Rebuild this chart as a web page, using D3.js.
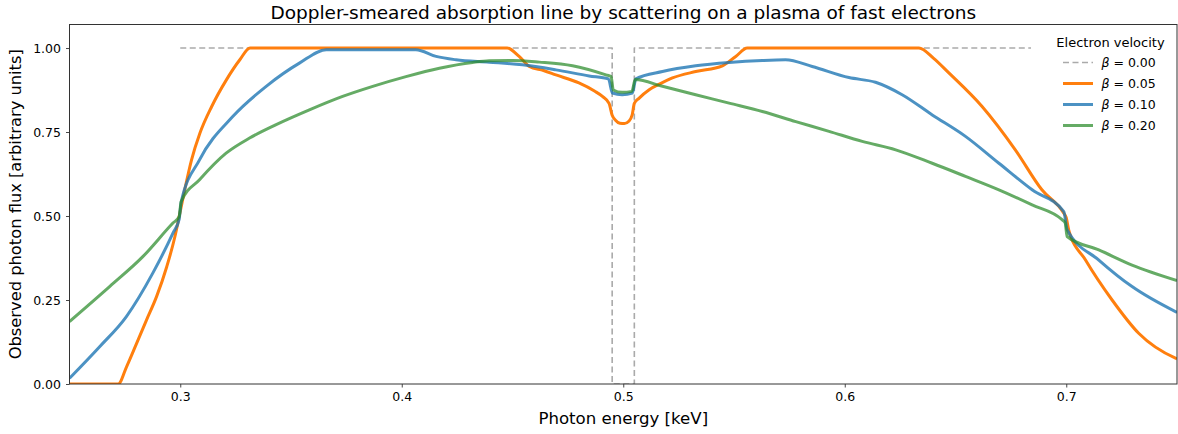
<!DOCTYPE html>
<html>
<head>
<meta charset="utf-8">
<script src="https://cdn.jsdelivr.net/npm/d3@7"></script>
<style>
  html, body { margin: 0; padding: 0; background: #fff; }
  svg { display: block; font-family: "DejaVu Sans", sans-serif; }
</style>
</head>
<body>
<svg id="chart" width="1178" height="434"></svg>
<script>
// Rest-frame line profile (beta = 0): continuum at 1 with a black gap 0.495-0.505 keV
const energyB00 = [0.30, 0.495, 0.495, 0.505, 0.505, 0.70];
const fluxB00   = [1.00, 1.00,  0.00,  0.00,  1.00,  1.00];

// beta = 0.05
const energyB05 = [0.25, 0.2720, 0.2758, 0.2803, 0.2848, 0.2893, 0.2939, 0.2976, 0.2995, 0.3017,
  0.3051, 0.3089, 0.3142, 0.3209, 0.3269, 0.3315, 0.4476, 0.4530, 0.4576, 0.4640,
  0.4696, 0.4800, 0.4870, 0.4906, 0.4936, 0.4950, 0.4965, 0.4985, 0.5005, 0.5025,
  0.5040, 0.5050, 0.5072, 0.5117, 0.5170, 0.5222, 0.5327, 0.5448, 0.5508, 0.5560,
  0.6335, 0.6400, 0.6470, 0.6620, 0.6770, 0.6890, 0.6989, 0.7000, 0.7011, 0.7087,
  0.7207, 0.7327, 0.7493, 0.7500];
const fluxB05 = [0.000, 0.000, 0.052, 0.121, 0.191, 0.260, 0.349, 0.439, 0.498, 0.568,
  0.667, 0.747, 0.826, 0.906, 0.965, 1.000, 1.000, 0.975, 0.945, 0.933,
  0.920, 0.896, 0.872, 0.856, 0.835, 0.800, 0.785, 0.776, 0.775, 0.782,
  0.800, 0.835, 0.851, 0.876, 0.895, 0.911, 0.930, 0.947, 0.975, 1.000,
  1.000, 0.970, 0.926, 0.826, 0.697, 0.578, 0.508, 0.495, 0.459, 0.369,
  0.250, 0.151, 0.077, 0.075];

// beta = 0.10
const energyB10 = [0.25, 0.2636, 0.2756, 0.2876, 0.2967, 0.2995, 0.3004, 0.3087, 0.3237, 0.3388,
  0.3538, 0.3659, 0.4064, 0.4155, 0.4245, 0.4395, 0.4545, 0.4696, 0.4846, 0.4933,
  0.4951, 0.4995, 0.5041, 0.5057, 0.5177, 0.5327, 0.5478, 0.5628, 0.5733, 0.5853,
  0.6019, 0.6139, 0.6259, 0.6395, 0.6545, 0.6696, 0.6846, 0.6989, 0.7004, 0.7147,
  0.7297, 0.7500];
const fluxB10 = [0.017, 0.111, 0.200, 0.330, 0.449, 0.490, 0.540, 0.667, 0.796, 0.886,
  0.955, 0.995, 0.995, 0.975, 0.965, 0.958, 0.950, 0.935, 0.917, 0.908,
  0.866, 0.861, 0.866, 0.908, 0.930, 0.947, 0.957, 0.963, 0.965, 0.945,
  0.912, 0.898, 0.861, 0.801, 0.737, 0.657, 0.578, 0.513, 0.459, 0.369,
  0.290, 0.213];

// beta = 0.20
const energyB20 = [0.25, 0.2681, 0.2831, 0.2967, 0.2995, 0.3004, 0.3087, 0.3207, 0.3313, 0.3433,
  0.3583, 0.3733, 0.3869, 0.4019, 0.4170, 0.4320, 0.4395, 0.4500, 0.4621, 0.4771,
  0.4922, 0.4945, 0.4955, 0.4995, 0.5039, 0.5054, 0.5177, 0.5327, 0.5478, 0.5628,
  0.5779, 0.5929, 0.6079, 0.6230, 0.6395, 0.6545, 0.6696, 0.6846, 0.6981, 0.6995,
  0.7004, 0.7147, 0.7297, 0.7500];
const fluxB20 = [0.186, 0.290, 0.379, 0.479, 0.498, 0.543, 0.608, 0.687, 0.732, 0.772,
  0.816, 0.856, 0.886, 0.915, 0.940, 0.957, 0.962, 0.963, 0.958, 0.947,
  0.920, 0.915, 0.875, 0.868, 0.871, 0.906, 0.886, 0.861, 0.836, 0.811,
  0.781, 0.752, 0.722, 0.697, 0.657, 0.618, 0.578, 0.533, 0.489, 0.480,
  0.439, 0.399, 0.354, 0.308];

const seriesLabels = ["0.00", "0.05", "0.10", "0.20"];
const xTicks = [0.3, 0.4, 0.5, 0.6, 0.7];
const yTicks = [0.00, 0.25, 0.50, 0.75, 1.00];

const svg = d3.select("#chart");
const mLeft = 69.5, mRight = 1177, mTop = 24.5, mBottom = 384;

const x = d3.scaleLinear().domain([0.25, 0.75]).range([mLeft, mRight]);
const y = d3.scaleLinear().domain([0, 1.07]).range([mBottom, mTop]);

svg.append("defs").append("clipPath").attr("id", "plotclip")
  .append("rect").attr("x", mLeft).attr("y", mTop)
  .attr("width", mRight - mLeft).attr("height", mBottom - mTop);

const styles = [
  { e: energyB00, f: fluxB00, color: "#aaaaaa", width: 1.6, dash: "6,3.5", opacity: 1, curve: d3.curveLinear },
  { e: energyB05, f: fluxB05, color: "#ff7f0e", width: 3, dash: null, opacity: 1, curve: d3.curveMonotoneX },
  { e: energyB10, f: fluxB10, color: "#1f77b4", width: 3, dash: null, opacity: 0.8, curve: d3.curveMonotoneX },
  { e: energyB20, f: fluxB20, color: "#2a8a2a", width: 3, dash: null, opacity: 0.72, curve: d3.curveMonotoneX }
];

const plot = svg.append("g").attr("clip-path", "url(#plotclip)");
styles.forEach(s => {
  const pts = s.e.map((e, i) => [e, s.f[i]]);
  const line = d3.line().x(d => x(d[0])).y(d => y(d[1])).curve(s.curve);
  plot.append("path")
    .attr("d", line(pts))
    .attr("fill", "none")
    .attr("stroke", s.color)
    .attr("stroke-width", s.width)
    .attr("stroke-opacity", s.opacity)
    .attr("stroke-linejoin", "round")
    .attr("stroke-dasharray", s.dash);
});

// Axes
const axisColor = "#333";
const xAxis = svg.append("g").attr("transform", `translate(0,${mBottom})`)
  .call(d3.axisBottom(x).tickValues(xTicks).tickFormat(d3.format(".1f")).tickSize(3.5).tickPadding(5));
const yAxis = svg.append("g").attr("transform", `translate(${mLeft},0)`)
  .call(d3.axisLeft(y).tickValues(yTicks).tickFormat(d3.format(".2f")).tickSize(3.5).tickPadding(5));
[xAxis, yAxis].forEach(a => {
  a.select(".domain").remove();
  a.selectAll("line").attr("stroke", axisColor).attr("stroke-width", 0.9);
  a.selectAll("text").attr("font-size", 12.5).attr("fill", "#000")
    .attr("font-family", "DejaVu Sans, sans-serif");
});

svg.append("rect").attr("x", mLeft).attr("y", mTop)
  .attr("width", mRight - mLeft).attr("height", mBottom - mTop)
  .attr("fill", "none").attr("stroke", axisColor).attr("stroke-width", 1);

// Title and axis labels
svg.append("text").attr("x", (mLeft + mRight) / 2).attr("y", 18.5)
  .attr("text-anchor", "middle").attr("font-size", 18.5)
  .text("Doppler-smeared absorption line by scattering on a plasma of fast electrons");
svg.append("text").attr("x", (mLeft + mRight) / 2).attr("y", 424)
  .attr("text-anchor", "middle").attr("font-size", 16.6)
  .text("Photon energy [keV]");
svg.append("text")
  .attr("transform", `translate(21,${(mTop + mBottom) / 2}) rotate(-90)`)
  .attr("text-anchor", "middle").attr("font-size", 16.3)
  .text("Observed photon flux [arbitrary units]");

// Legend
const lg = svg.append("g");
lg.append("rect").attr("x", 1031).attr("y", 30).attr("width", 141).attr("height", 106)
  .attr("fill", "#fff");
lg.append("text").attr("x", 1110.5).attr("y", 47).attr("text-anchor", "middle")
  .attr("font-size", 13).text("Electron velocity");
seriesLabels.forEach((lab, i) => {
  const yy = 62.5 + i * 21;
  const s = styles[i];
  lg.append("line").attr("x1", 1063).attr("x2", 1093).attr("y1", yy).attr("y2", yy)
    .attr("stroke", s.color).attr("stroke-width", s.width)
    .attr("stroke-opacity", s.opacity).attr("stroke-dasharray", s.dash);
  const t = lg.append("text").attr("x", 1101.5).attr("y", yy + 4.5).attr("font-size", 12.5);
  t.append("tspan").attr("font-style", "italic").text("β");
  t.append("tspan").text(" = " + lab);
});
</script>
</body>
</html>
